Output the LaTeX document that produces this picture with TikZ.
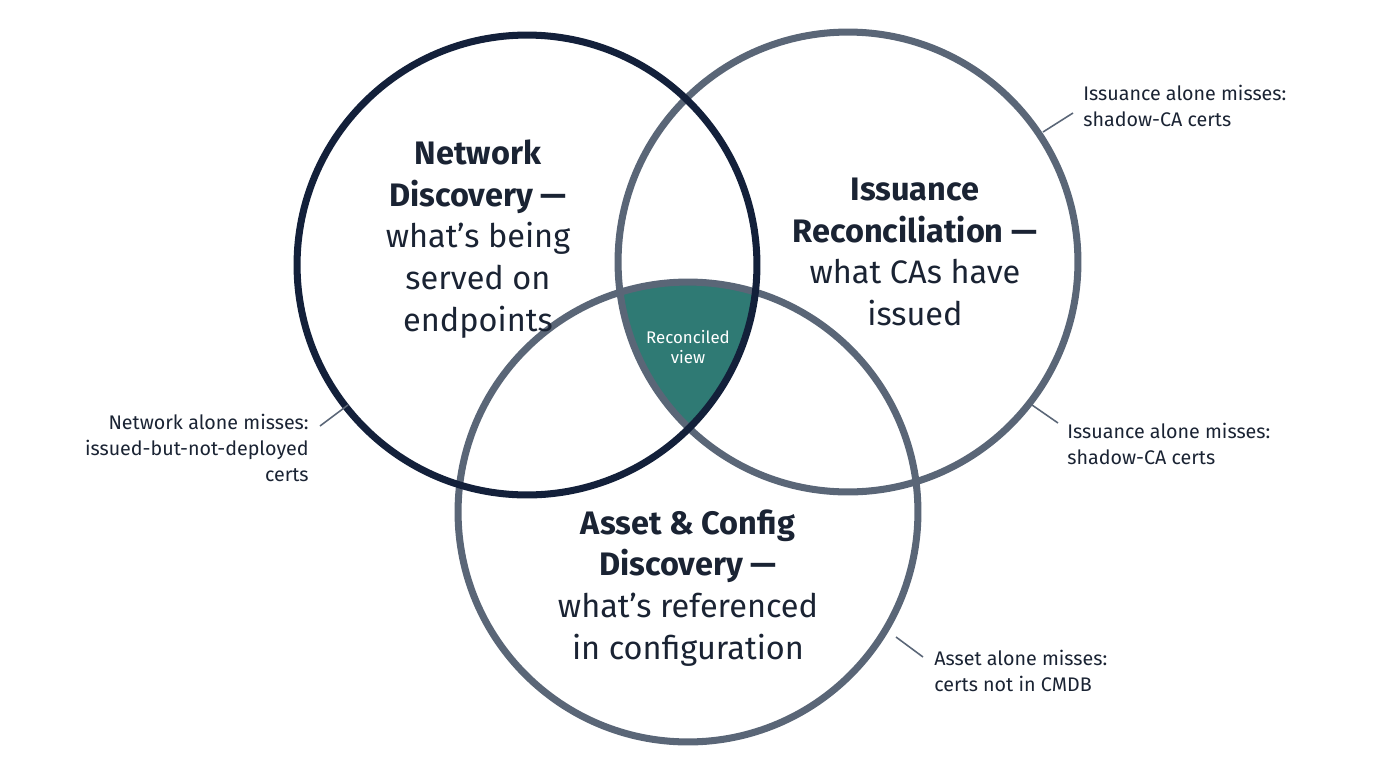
\documentclass[tikz,border=0pt]{standalone}
\usepackage{fontspec}
\setmainfont{Fira Sans}
\usetikzlibrary{positioning}

\definecolor{navy}{HTML}{13203A}
\definecolor{slate}{HTML}{5A6677}
\definecolor{viewteal}{HTML}{2F7A74}
\definecolor{inktext}{HTML}{1A2333}

\tikzset{
    ring/.style={line width=4pt},
    title/.style={align=center, text=inktext, font=\fontsize{18.5}{23.8}\selectfont},
    note/.style={text=inktext, font=\fontsize{11.2}{14.7}\selectfont, inner sep=0pt},
    leader/.style={draw=slate, line width=0.9pt}
}

\begin{document}
\begin{tikzpicture}[x=0.02cm, y=-0.02cm]
    \useasboundingbox (0,0) rectangle (1376,768);

    \coordinate (net) at (527,265);
    \coordinate (iss) at (848,262);
    \coordinate (ass) at (688,512);

    % centre region
    \begin{scope}
        \clip (net) circle (4.6cm);
        \clip (iss) circle (4.6cm);
        \fill[viewteal] (ass) circle (4.6cm);
    \end{scope}

    \path[draw=slate, ring] (iss) circle (4.6cm);
    \path[draw=slate, ring] (ass) circle (4.6cm);
    \path[draw=navy, ring] (net) circle (4.6cm);

    \node[title] (nettext) at (478,239) {\textbf{Network}\\\textbf{Discovery —}\\what’s being\\served on\\endpoints};
    \node[title] (isstext) at (915,252) {\textbf{Issuance}\\\textbf{Reconciliation —}\\what CAs have\\issued};
    \node[title] (asstext) at (688,588) {\textbf{Asset \& Config}\\\textbf{Discovery —}\\what’s referenced\\in configuration};
    \node[align=center, text=white, font=\fontsize{9.6}{11.5}\selectfont] (view) at (688,347) {Reconciled\\view};

    % side notes
    \node[note, align=left, anchor=west] (isstop) at (1083,106) {Issuance alone misses:\\shadow-CA certs};
    \node[note, align=left, anchor=west] (issside) at (1067,444) {Issuance alone misses:\\shadow-CA certs};
    \node[note, align=right, anchor=east] (netside) at (309,448) {Network alone misses:\\issued-but-not-deployed\\certs};
    \node[note, align=left, anchor=west] (assside) at (934,671) {Asset alone misses:\\certs not in CMDB};

    \coordinate (p1) at (1043,132);
    \coordinate (p2) at (1032,405);
    \coordinate (p3) at (348,405);
    \coordinate (p4) at (896,637);
    \coordinate (q1) at (1073,113);
    \coordinate (q2) at (1058,423);
    \coordinate (q3) at (320,426);
    \coordinate (q4) at (923,657);
    \path[leader] (p1) -- (q1);
    \path[leader] (p2) -- (q2);
    \path[leader] (p3) -- (q3);
    \path[leader] (p4) -- (q4);
\end{tikzpicture}
\end{document}
